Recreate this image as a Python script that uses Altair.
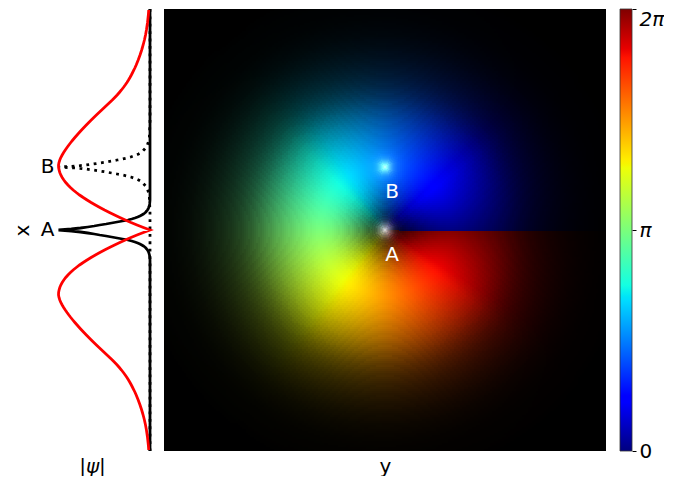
import math
import altair as alt

alt.data_transformers.disable_max_rows()

# |psi| of the ring, every 2.5 units of distance from A
# (the last values, past the end of the curve, are read from the fading edge of the image)
RING_STEP = 2.5
RING = [0.000, 0.072, 0.142, 0.208, 0.270, 0.330, 0.387, 0.443, 0.497, 0.548,
        0.597, 0.644, 0.688, 0.730, 0.770, 0.806, 0.840, 0.870, 0.897, 0.921,
        0.942, 0.960, 0.975, 0.986, 0.994, 0.999, 1.000, 0.995, 0.986, 0.975,
        0.960, 0.944, 0.926, 0.907, 0.887, 0.866, 0.844, 0.821, 0.797, 0.773,
        0.748, 0.722, 0.696, 0.669, 0.642, 0.614, 0.586, 0.557, 0.528, 0.499,
        0.470, 0.441, 0.412, 0.385, 0.359, 0.335, 0.312, 0.291, 0.271, 0.252,
        0.235, 0.219, 0.204, 0.190, 0.176, 0.163, 0.151, 0.140, 0.129, 0.119,
        0.109, 0.100, 0.091, 0.083, 0.075, 0.068, 0.061, 0.055, 0.049, 0.044,
        0.039, 0.035, 0.031, 0.027, 0.024, 0.021, 0.018, 0.016, 0.014, 0.013,
        0.012, 0.011, 0.010, 0.009, 0.008, 0.007, 0.006, 0.005, 0.004, 0.003]

# narrow peak at A (solid) and at B (dotted), read at each unit of distance from the peak
PEAK_A = [1.00, 0.86, 0.76, 0.68, 0.61, 0.55, 0.48, 0.42, 0.36, 0.30, 0.24, 0.20, 0.165, 0.135, 0.11, 0.09,
          0.072, 0.057, 0.045, 0.036, 0.028, 0.021, 0.016, 0.012, 0.009, 0.006, 0.004, 0.003, 0.002, 0.001, 0.0]
PEAK_B = [1.00, 0.80, 0.70, 0.62, 0.55, 0.48, 0.42, 0.36, 0.30, 0.25, 0.21, 0.18, 0.15, 0.125, 0.105, 0.09,
          0.078, 0.068, 0.058, 0.048, 0.04, 0.034, 0.029, 0.025, 0.021, 0.018, 0.015, 0.013, 0.011, 0.009, 0.007]

A_POS = 0
B_POS = 63
LIMIT = 221
PEAK_LABELS = ["A", "B"]
PEAK_POSITIONS = [A_POS, B_POS]
WHITE_LABEL_Y = [-25, 38]

# colour bar stops
STOP_AT = [0, 0.11, 0.125, 0.34, 0.35, 0.375, 0.64, 0.65, 0.66, 0.89, 0.91, 1]
STOP_HEX = ["#000080", "#0000ff", "#0000ff", "#00dbff", "#00e5f7", "#14ffe2",
            "#eeff08", "#f7f500", "#ffec00", "#ff1300", "#e80000", "#800000"]
PHASE_TICKS = [0, math.pi, 2 * math.pi]
FONT = "DejaVu Sans"
FS = 20


def hex_rgb(h):
    return [int(h[i:i + 2], 16) / 255 for i in (1, 3, 5)]


STOP_RGB = [hex_rgb(h) for h in STOP_HEX]


def phase_rgb(p):
    for k in range(len(STOP_AT) - 1):
        if p <= STOP_AT[k + 1]:
            t = (p - STOP_AT[k]) / (STOP_AT[k + 1] - STOP_AT[k])
            return [STOP_RGB[k][c] + t * (STOP_RGB[k + 1][c] - STOP_RGB[k][c]) for c in range(3)]
    return STOP_RGB[-1]


def lookup(values, step, r):
    i = int(round(r / step))
    return values[i] if i < len(values) else 0.0


SPOT_POWER = 1.5


def cell(x0, x1, y0, y1):
    cx, cy = (x0 + x1) / 2, (y0 + y1) / 2
    r = math.hypot(cx, cy)
    amp = lookup(RING, RING_STEP, r)
    white = lookup(PEAK_A, 1, r) ** SPOT_POWER + lookup(PEAK_B, 1, math.hypot(cx, cy - B_POS)) ** SPOT_POWER
    rgb = phase_rgb((math.atan2(cy, cx) % (2 * math.pi)) / (2 * math.pi))
    c = [min(1.0, rgb[i] * amp + white) for i in range(3)]
    if max(c) < 1 / 255:
        return None
    return {"x": x0, "x2": x1, "y": y0, "y2": y1,
            "c": "#%02x%02x%02x" % tuple(int(round(v * 255)) for v in c)}


COARSE = 2
cells = []
for i in range(0, 2 * LIMIT, COARSE):
    for j in range(0, 2 * LIMIT, COARSE):
        row = cell(-LIMIT + i, -LIMIT + i + COARSE, LIMIT - j - COARSE, LIMIT - j)
        if row:
            cells.append(row)
for centre in PEAK_POSITIONS:
    for i in range(-14, 14):
        for j in range(-14, 14):
            if i * i + j * j <= 196:
                row = cell(i, i + 1, centre + j, centre + j + 1)
                if row:
                    cells.append(row)

# profile tables
LAST = int(LIMIT / RING_STEP)
red_rows = []
for k in range(LAST, 0, -1):
    red_rows.append({"pos": k * RING_STEP, "v": RING[k]})
for k in range(LAST + 1):
    red_rows.append({"pos": -k * RING_STEP, "v": RING[k]})

a_rows = [{"pos": LIMIT, "v": 0}]
for k in range(len(PEAK_A) - 1, 0, -1):
    a_rows.append({"pos": k, "v": PEAK_A[k]})
for k in range(len(PEAK_A)):
    a_rows.append({"pos": -k, "v": PEAK_A[k]})
a_rows.append({"pos": -LIMIT, "v": 0})

b_rows = [{"pos": LIMIT, "v": 0}, {"pos": B_POS + 46, "v": 0}]
for k in range(len(PEAK_B) - 1, 0, -1):
    b_rows.append({"pos": B_POS + k, "v": PEAK_B[k]})
for k in range(len(PEAK_B)):
    b_rows.append({"pos": B_POS - k, "v": PEAK_B[k]})
b_rows += [{"pos": B_POS - 46, "v": 0}, {"pos": -LIMIT, "v": 0}]

Y = alt.Scale(domain=[-LIMIT, LIMIT], nice=False, zero=False)
VX = alt.Scale(domain=[1.268, 0], nice=False, zero=False)
IX = alt.Scale(domain=[-LIMIT, LIMIT], nice=False, zero=False)
PLAIN = dict(domain=False, ticks=False, labels=False, grid=False, titleFont=FONT, titleFontSize=FS,
             titleColor="#000000", titleFontWeight="normal")


def profile(rows, **mark):
    return alt.Chart(alt.Data(values=rows)).mark_line(strokeWidth=2.78, **mark).encode(
        x=alt.X("v:Q", scale=VX, axis=alt.Axis(title="|ψ|", titleFontStyle="italic", titlePadding=5, **PLAIN)),
        y=alt.Y("pos:Q", scale=Y, axis=alt.Axis(title="x", titlePadding=2, **PLAIN)),
        order=alt.Order("idx:Q"))


def indexed(rows):
    return [dict(r, idx=i) for i, r in enumerate(rows)]


peak_text = alt.Chart(alt.Data(values=[{"t": t, "pos": p, "v": 1.12} for t, p in zip(PEAK_LABELS, PEAK_POSITIONS)])).mark_text(
    font=FONT, fontSize=FS, color="#000000", baseline="middle", align="center").encode(
    x=alt.X("v:Q", scale=VX), y=alt.Y("pos:Q", scale=Y), text="t:N")

left = alt.layer(
    profile(indexed(b_rows), color="#000000", strokeDash=[2.8, 4.6]),
    profile(indexed(a_rows), color="#000000"),
    profile(indexed(red_rows), color="#ff0000"),
    peak_text,
).properties(width=116, height=442)

bg = alt.Chart(alt.Data(values=[{"x": -LIMIT, "x2": LIMIT, "y": -LIMIT, "y2": LIMIT}])).mark_rect(color="#000000").encode(
    x=alt.X("x:Q", scale=IX, axis=alt.Axis(title="y", titlePadding=5, **PLAIN)),
    x2="x2:Q",
    y=alt.Y("y:Q", scale=Y, axis=None),
    y2="y2:Q")
field = alt.Chart(alt.Data(values=cells)).mark_rect().encode(
    x=alt.X("x:Q", scale=IX), x2="x2:Q", y=alt.Y("y:Q", scale=Y), y2="y2:Q",
    color=alt.Color("c:N", scale=None))
white_text = alt.Chart(alt.Data(values=[{"t": t, "x": 7, "y": y} for t, y in zip(PEAK_LABELS, WHITE_LABEL_Y)])).mark_text(
    font=FONT, fontSize=FS, color="#ffffff", baseline="middle", align="center").encode(
    x=alt.X("x:Q", scale=IX), y=alt.Y("y:Q", scale=Y), text="t:N")
image = alt.layer(bg, field, white_text).properties(width=442, height=442)

bar = alt.Chart(alt.Data(values=[{"a": 0, "b": 2 * math.pi}])).mark_rect(
    color=alt.Gradient(gradient="linear", x1=0, y1=1, x2=0, y2=0,
                       stops=[alt.GradientStop(offset=o, color=h) for o, h in zip(STOP_AT, STOP_HEX)]),
    stroke="#333333", strokeWidth=0.8).encode(
    y=alt.Y("a:Q", scale=alt.Scale(domain=[0, 2 * math.pi], nice=False, zero=False),
            axis=alt.Axis(orient="right", values=PHASE_TICKS, title=None, domain=False, grid=False,
                          tickColor="#000000", tickSize=4, tickWidth=1, labelPadding=3, labelFont=FONT,
                          labelFontSize=FS, labelColor="#000000", labelOverlap=False,
                          labelExpr="datum.value < 1 ? '0' : datum.value < 4 ? 'π' : '2π'",
                          labelBaseline={"condition": {"test": "datum.value > 6", "value": "top"}, "value": "middle"},
                          labelFontStyle={"condition": {"test": "datum.value < 1", "value": "normal"}, "value": "italic"})),
    y2="b:Q").properties(width=12, height=442)

chart = alt.hconcat(left, image, bar, spacing=14, bounds="flush").properties(
    padding={"left": 4, "top": -5, "right": 0, "bottom": 0}
).configure_view(stroke=None)

chart.save("out.html", embed_options={"renderer": "svg", "actions": False})
